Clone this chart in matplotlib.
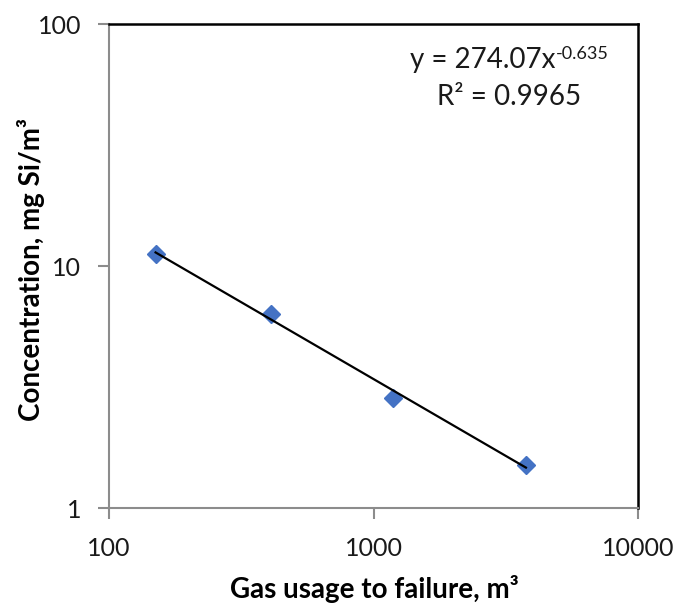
import numpy as np
import matplotlib
matplotlib.use("Agg")
import matplotlib.pyplot as plt
from matplotlib.ticker import FixedLocator, NullLocator, FuncFormatter

plt.rcParams['font.family'] = ['Lato', 'DejaVu Sans']

# data
gas_usage = [150, 410, 1190, 3770]          # m3
concentration = [11.2, 6.35, 2.86, 1.50]    # mg Si/m3

# power-law trendline printed on the chart
fit_a = 274.07
fit_b = -0.635
fit_r2 = 0.9965

W, H = 675, 606
fig = plt.figure(figsize=(W / 100, H / 100), dpi=100)
ax = fig.add_axes([109 / W, 1 - 508 / H, 529 / W, 484 / H])

ax.set_xscale('log')
ax.set_yscale('log')
ax.set_xlim(100, 10000)
ax.set_ylim(1, 100)

# trendline over the data range
xt = np.array([gas_usage[0], gas_usage[-1]])
ax.plot(xt, fit_a * xt ** fit_b, color='black', lw=1.6, zorder=3)

ax.plot(gas_usage, concentration, linestyle='none', marker='D',
        markersize=9, color='#4472C4', zorder=2)

# axes look: grey left/bottom, black top/right
for side in ['left', 'bottom']:
    ax.spines[side].set_color('#8c8c8c')
    ax.spines[side].set_linewidth(1.5)
for side in ['top', 'right']:
    ax.spines[side].set_color('black')
    ax.spines[side].set_linewidth(1.8)

ax.xaxis.set_major_locator(FixedLocator([100, 1000, 10000]))
ax.yaxis.set_major_locator(FixedLocator([1, 10, 100]))
ax.xaxis.set_minor_locator(NullLocator())
ax.yaxis.set_minor_locator(NullLocator())
plain = FuncFormatter(lambda v, p: '%d' % v)
ax.xaxis.set_major_formatter(plain)
ax.yaxis.set_major_formatter(plain)
ax.tick_params(axis='both', direction='out', length=8, width=1.5,
               color='#8c8c8c', labelsize=18, labelcolor='#1a1a1a')
ax.tick_params(axis='x', pad=13)
ax.tick_params(axis='y', pad=12)

# axis titles placed in figure pixels so they stay inside the canvas
fig.text(374 / W, 1 - 589 / H, 'Gas usage to failure, m³', fontsize=20,
         fontweight='bold', ha='center', va='center')
fig.text(31 / W, 1 - 270 / H, 'Concentration, mg Si/m³', fontsize=20,
         fontweight='bold', ha='center', va='center', rotation=90)

# equation: main part plus a smaller raised exponent
eq_x = (555 - 109) / 529
ax.text(eq_x, 1 - (68 - 24) / 484, 'y = %.2fx' % fit_a,
        transform=ax.transAxes, ha='right', va='baseline', fontsize=20,
        color='#1a1a1a')
ax.text(eq_x + 0.002, 1 - (59 - 24) / 484, '%.3f' % fit_b,
        transform=ax.transAxes, ha='left', va='baseline', fontsize=13,
        color='#1a1a1a')
ax.text((509 - 109) / 529, 1 - (105 - 24) / 484, 'R² = %.4f' % fit_r2,
        transform=ax.transAxes, ha='center', va='baseline', fontsize=20,
        color='#1a1a1a')

fig.savefig('out.png', dpi=100)
